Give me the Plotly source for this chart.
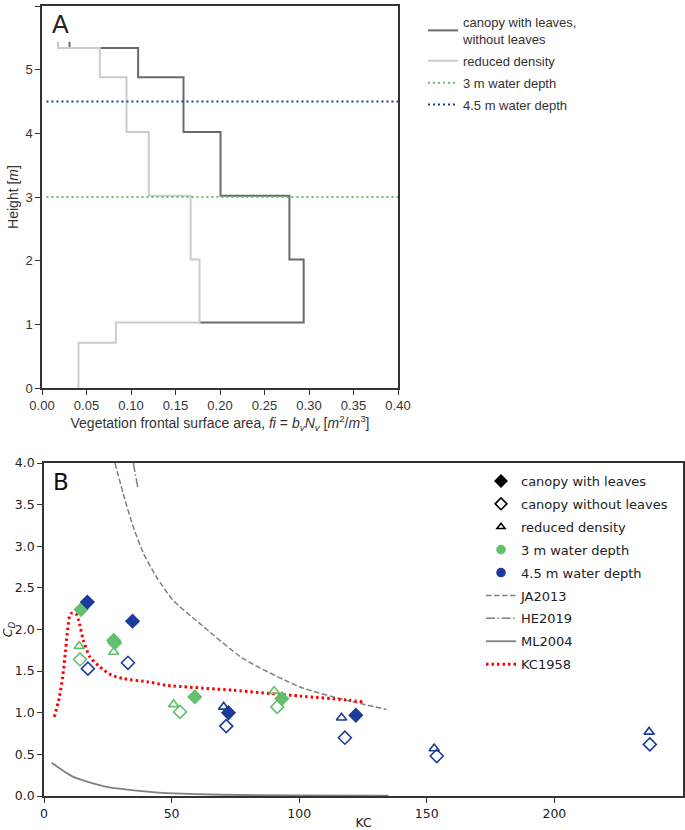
import plotly.graph_objects as go

# ---- panel A: vertical profiles of frontal area (step vertices, vh steps)
dense_fi = [0.031, 0.108, 0.159, 0.2006, 0.278, 0.294, 0.177]
dense_h = [5.44, 5.34, 4.88, 4.02, 3.02, 2.02, 1.03]
reduced_fi = [0.018, 0.065, 0.095, 0.120, 0.167, 0.177, 0.083, 0.041, 0.041]
reduced_h = [5.44, 5.34, 4.88, 4.02, 3.02, 2.02, 1.03, 0.71, 0.0]
depth_span = [0.005, 0.40]
water_depths = [3.0, 4.5]

# ---- panel B: drag coefficient vs KC
kc_leaves_3 = [14.5, 27.3, 27.7, 59.1, 93.2]
cd_leaves_3 = [2.24, 1.87, 1.84, 1.19, 1.17]
kc_leaves_45 = [17.0, 34.7, 72.3, 122.2]
cd_leaves_45 = [2.33, 2.10, 1.00, 0.97]
kc_noleaves_3 = [14.1, 53.3, 91.4]
cd_noleaves_3 = [1.64, 1.01, 1.07]
kc_noleaves_45 = [17.2, 32.9, 71.4, 117.9, 153.9, 237.4]
cd_noleaves_45 = [1.53, 1.60, 0.84, 0.70, 0.48, 0.62]
kc_reduced_3 = [13.8, 27.3, 50.8, 90.2]
cd_reduced_3 = [1.80, 1.73, 1.10, 1.26]
kc_reduced_45 = [70.4, 116.6, 152.9, 237.1]
cd_reduced_45 = [1.07, 0.94, 0.57, 0.77]

# literature curves
ja_kc = [27.8, 31.7, 35.0, 38.9, 44.1, 50.6, 61.1, 78.1, 100.3, 118.5, 134.2]
ja_cd = [4.0, 3.56, 3.23, 2.92, 2.63, 2.35, 2.07, 1.65, 1.31, 1.15, 1.04]
he_kc = [35.0, 36.9]
he_cd = [4.0, 3.68]
ml_kc = [3.0, 11.5, 24.6, 41.5, 48.0, 70.0, 100.0, 135.0]
ml_cd = [0.40, 0.23, 0.11, 0.05, 0.035, 0.015, 0.006, 0.003]
kc58_kc = [4.05, 5.9, 7.3, 8.2, 9.1, 10.4, 12.5, 13.6, 15.4, 18.0, 21.9, 26.5,
           31.1, 40.9, 48.0, 74.2, 100.3, 119.8, 124.8]
kc58_cd = [0.95, 1.17, 1.43, 1.67, 1.95, 2.19, 2.19, 2.11, 1.87, 1.67, 1.55, 1.45,
           1.41, 1.37, 1.33, 1.27, 1.20, 1.15, 1.13]

GREEN = "#63c06d"
BLUE = "#1b3c9c"
GREY = "#808080"
W, H = 685, 830

fig = go.Figure()

# panel A
fig.add_trace(go.Scatter(x=dense_fi, y=dense_h, mode="lines", line_shape="vh",
                         line=dict(color="#6a6a6a", width=2),
                         name="canopy with leaves,<br>without leaves", legendgroup="a1",
                         xaxis="x", yaxis="y", legend="legend"))
fig.add_trace(go.Scatter(x=reduced_fi, y=reduced_h, mode="lines", line_shape="vh",
                         line=dict(color="#cccccc", width=2), legendgroup="a2",
                         name="reduced density", xaxis="x", yaxis="y", legend="legend"))
for d, col, nm in zip(water_depths, [GREEN, BLUE], ["3 m water depth", "4.5 m water depth"]):
    fig.add_trace(go.Scatter(x=depth_span, y=[d, d], mode="lines",
                             line=dict(color=col, width=2, dash="2px,3px"),
                             name=nm, legendgroup=nm, xaxis="x", yaxis="y", legend="legend"))

# panel B curves
curves = [
    (ja_kc, ja_cd, "JA2013", dict(color=GREY, width=1.5, dash="5.5px,2.5px")),
    (he_kc, he_cd, "HE2019", dict(color=GREY, width=1.5, dash="9px,2.5px,1.5px,2.5px")),
    (ml_kc, ml_cd, "ML2004", dict(color=GREY, width=1.8)),
    (kc58_kc, kc58_cd, "KC1958", dict(color="red", width=3, dash="2.5px,3px")),
]
for xs, ys, nm, ln in curves:
    fig.add_trace(go.Scatter(x=xs, y=ys, mode="lines", line=ln, line_shape="spline",
                             line_smoothing=0.6, name=nm,
                             xaxis="x2", yaxis="y2", legend="legend2", showlegend=False))

# panel B points
groups = [
    (kc_leaves_3, cd_leaves_3, "diamond", GREEN),
    (kc_leaves_45, cd_leaves_45, "diamond", BLUE),
    (kc_noleaves_3, cd_noleaves_3, "diamond-open", GREEN),
    (kc_noleaves_45, cd_noleaves_45, "diamond-open", BLUE),
    (kc_reduced_3, cd_reduced_3, "triangle-up-open", GREEN),
    (kc_reduced_45, cd_reduced_45, "triangle-up-open", BLUE),
]
for xs, ys, sym, col in groups:
    fig.add_trace(go.Scatter(x=xs, y=ys, mode="markers",
                             marker=dict(symbol=sym, size=10 if "diamond" in sym else 9,
                                         color=col, line=dict(color=col, width=1.6)),
                             xaxis="x2", yaxis="y2", showlegend=False))

# panel B legend entries
leg_markers = [
    ("canopy with leaves", "diamond", "black", 9),
    ("canopy without leaves", "diamond-open", "black", 9),
    ("reduced density", "triangle-up-open", "black", 7),
    ("3 m water depth", "circle", GREEN, 8),
    ("4.5 m water depth", "circle", BLUE, 8),
]
for nm, sym, col, sz in leg_markers:
    fig.add_trace(go.Scatter(x=[None], y=[None], mode="markers", name=nm, legendgroup=nm,
                             marker=dict(symbol=sym, size=sz, color=col,
                                         line=dict(color=col, width=1.6)),
                             xaxis="x2", yaxis="y2", legend="legend2"))
for xs, ys, nm, ln in curves:
    fig.add_trace(go.Scatter(x=[None], y=[None], mode="lines", line=ln, name=nm,
                             legendgroup=nm, xaxis="x2", yaxis="y2", legend="legend2"))

axcol = "#333333"
common = dict(showline=True, mirror=True, linecolor=axcol, linewidth=1.5,
              ticks="outside", ticklen=5, tickcolor=axcol, showgrid=False,
              zeroline=False, automargin=False)
fontA = dict(family="Liberation Sans, Arial", size=13, color="#333333")
fontB = dict(family="DejaVu Sans", size=12.5, color="#222222")

fig.update_layout(
    width=W, height=H, margin=dict(l=0, r=0, t=0, b=0, autoexpand=False),
    plot_bgcolor="white", paper_bgcolor="white",
    xaxis=dict(domain=[42 / W, 398 / W], anchor="y", range=[0, 0.40], dtick=0.05,
               tickformat=".2f", tickfont=fontA,
               title=dict(text="Vegetation frontal surface area, <i>fi</i> = "
                               "<i>b<sub>v</sub>N<sub>v</sub></i> "
                               "[<i>m</i><sup>2</sup>/<i>m</i><sup>3</sup>]",
                          font=dict(family="Liberation Sans, Arial", size=14, color="#333333"),
                          standoff=2),
               **common),
    yaxis=dict(domain=[1 - 388 / H, 1 - 6 / H], anchor="x", range=[0, 6], dtick=1,
               tickfont=fontA,
               title=dict(text="Height [<i>m</i>]",
                          font=dict(family="Liberation Sans, Arial", size=14, color="#333333"),
                          standoff=4),
               **common),
    xaxis2=dict(domain=[44 / W, 683 / W], anchor="y2", range=[0, 250.4],
                tickvals=[0, 50, 100, 150, 200], tickfont=fontB,
                title=dict(text="KC", font=dict(family="DejaVu Sans", size=12.5, color="#222222"),
                           standoff=2),
                **common),
    yaxis2=dict(domain=[1 - 796 / H, 1 - 463 / H], anchor="x2", range=[0, 4.0], dtick=0.5,
                tickformat=".1f", tickfont=fontB,
                title=dict(text="<i>C<sub>D</sub></i>",
                           font=dict(family="DejaVu Sans", size=12.5, color="#222222"),
                           standoff=4),
                **common),
    legend=dict(x=423 / W, xanchor="left", y=1 - 7 / H, yanchor="top",
                font=dict(family="Liberation Sans, Arial", size=13, color="#333333"),
                bgcolor="rgba(0,0,0,0)", tracegroupgap=2, itemwidth=30),
    legend2=dict(x=481 / W, xanchor="left", y=1 - 466 / H, yanchor="top",
                 font=dict(family="DejaVu Sans", size=13, color="#222222"),
                 bgcolor="rgba(0,0,0,0)", tracegroupgap=3, itemwidth=30),
    annotations=[
        dict(text="A", x=60 / W, y=1 - 24 / H, xref="paper", yref="paper", showarrow=False,
             xanchor="center", yanchor="middle",
             font=dict(family="Liberation Sans, Arial", size=25, color="#222222")),
        dict(text="B", x=61 / W, y=1 - 482 / H, xref="paper", yref="paper", showarrow=False,
             xanchor="center", yanchor="middle",
             font=dict(family="DejaVu Sans", size=23, color="#111111")),
    ],
)

# the page body has a default 8px margin; drop it so the figure sits at (0, 0)
fig.write_html("out.html", config={"displayModeBar": False},
               post_script="document.body.style.margin='0';")
